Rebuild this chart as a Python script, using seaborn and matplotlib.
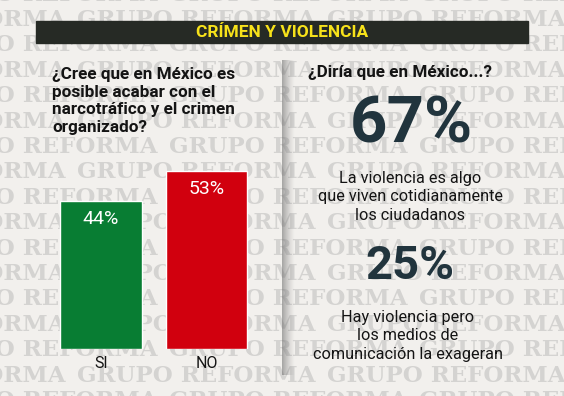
import numpy as np
import seaborn as sns
import matplotlib.pyplot as plt
from matplotlib import font_manager
from matplotlib.patches import Rectangle

# data
answers = ["SI", "NO"]
answer_pcts = [44, 53]
answer_colours = ["#087d33", "#d1000e"]

stat_values = [67, 25]
stat_texts = [
    "La violencia es algo\nque viven cotidianamente\nlos ciudadanos",
    "Hay violencia pero\nlos medios de\ncomunicación la exageran",
]

title = "CRÍMEN Y VIOLENCIA"
question_left = "¿Cree que en México es\nposible acabar con el\nnarcotráfico y el crimen\norganizado?"
question_right = "¿Diría que en México...?"
watermark = "GRUPO REFORMA"

BG = "#f2f0ed"
MARK = "#d4d3d1"
INK = "#141414"
SLATE = "#21343d"

sns.set_theme(style="white")
names = {f.name for f in font_manager.fontManager.ttflist}
COND = "Liberation Sans Narrow" if "Liberation Sans Narrow" in names else "Roboto"
plt.rcParams["font.family"] = [COND, "DejaVu Sans"]

fig = plt.figure(figsize=(5.64, 3.96), dpi=100, facecolor=BG)
bg = fig.add_axes([0, 0, 1, 1])
bg.set_xlim(0, 564)
bg.set_ylim(396, 0)
bg.axis("off")
bg.set_facecolor(BG)

# watermark rows
for r in range(-1, 16):
    y = 20 + 25.4 * r
    start = 77 if r % 2 == 0 else -81
    for k in range(-1, 4):
        bg.text(start + 250 * k, y, watermark, ha="left", va="center",
                fontsize=16.5, fontweight="bold", family="DejaVu Serif",
                color=MARK, zorder=0)

# title bar
bg.add_patch(Rectangle((36, 21), 492, 22, color="#262a25", zorder=2))
bg.text(282, 32.5, title, ha="center", va="center", color="#f7e21a",
        fontsize=12.5, fontweight="bold", zorder=3)

# left question
bg.text(52, 101, question_left, ha="left", va="center", color=INK,
        fontsize=12.3, fontweight="bold", linespacing=1.22, zorder=3)

# divider shadow
grad = np.linspace(0, 1, 40)[None, :]
shade = np.zeros((1, 40, 4))
shade[..., :3] = 0.45
shade[..., 3] = 0.6 * (1 - grad) ** 1.3
bg.imshow(shade, extent=(282, 295, 375, 60), aspect="auto", zorder=1,
          interpolation="bilinear")

# right side
bg.text(308, 72, question_right, ha="left", va="center", color=INK,
        fontsize=12.3, fontweight="bold", zorder=3)
bg.text(411, 125, f"{stat_values[0]}%", ha="center", va="center",
        color=SLATE, fontsize=47, fontweight="bold", zorder=3)
bg.text(410, 197, stat_texts[0], ha="center", va="center", color=INK,
        fontsize=11.7, linespacing=1.3, zorder=3)
bg.text(410, 266, f"{stat_values[1]}%", ha="center", va="center",
        color=SLATE, fontsize=34, fontweight="bold", zorder=3)
bg.text(408, 336, stat_texts[1], ha="center", va="center", color=INK,
        fontsize=11.7, linespacing=1.3, zorder=3)

# bar chart
ax = fig.add_axes([48.25 / 564, (396 - 349) / 396, 211 / 564, 202 / 396])
ax.patch.set_alpha(0)
sns.barplot(x=answers, y=answer_pcts, hue=answers, palette=answer_colours,
            width=0.768, saturation=1, legend=False, ax=ax, zorder=2)
ax.set_xlim(-0.5, 1.5)
ax.set_ylim(0, 60)
for i, v in enumerate(answer_pcts):
    ax.annotate(f"{v}%", (i, v), xytext=(0, -18), textcoords="offset pixels",
                ha="center", va="center", color="white", fontsize=14)
sns.despine(ax=ax, left=True, bottom=True)
ax.set_yticks([])
ax.tick_params(axis="x", length=0, pad=5, labelsize=11.5, labelcolor=INK)
ax.set_xlabel("")
ax.set_ylabel("")

fig.savefig("out.png", dpi=100, facecolor=BG)
